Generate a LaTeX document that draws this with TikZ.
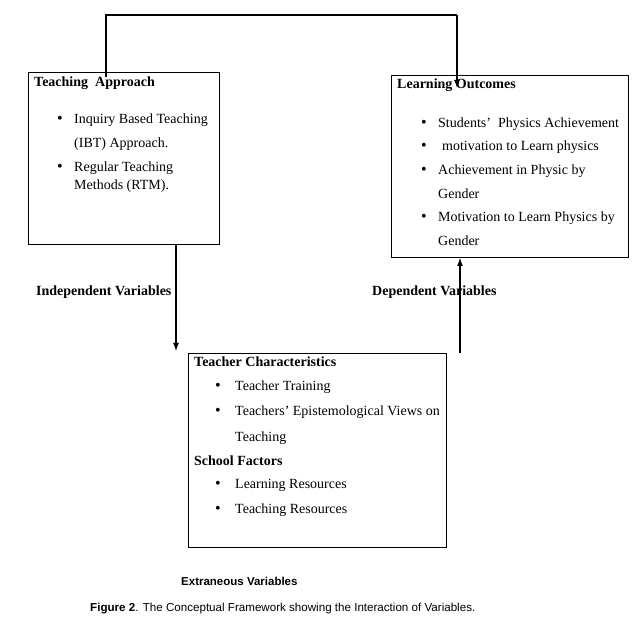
\documentclass[tikz,border=0pt]{standalone}
\usepackage{fontspec}
\setmainfont{Liberation Serif}
\setsansfont{Liberation Sans}
\usetikzlibrary{arrows.meta}
\begin{document}
\begin{tikzpicture}[x=1pt,y=-1pt,
  box/.style={draw,line width=0.9pt,anchor=north west,inner sep=0pt},
  txt/.style={anchor=base west,inner sep=0pt,font=\fontsize{14}{16}\selectfont},
  hd/.style={txt,font=\fontsize{14}{16}\selectfont\bfseries},
  bul/.style={anchor=base,inner sep=0pt,font=\fontsize{16}{18}\selectfont},
  conn/.style={line width=1.4pt},
  arr/.style={line width=1.2pt,-{Latex[length=8pt,width=6pt]}}]
\useasboundingbox[fill=white] (0,0) rectangle (643,620);
% boxes
\node[box,minimum width=191pt,minimum height=172pt] (ta) at (28,72) {};
\node[box,minimum width=237pt,minimum height=182pt] (lo) at (391,75) {};
\node[box,minimum width=258pt,minimum height=194pt] (ex) at (188,353) {};
% teaching approach
\node[hd] (tah) at (34,87) {Teaching\ \ Approach};
\node[bul] (tab1) at (60,124) {\textbullet};
\node[txt] (ta1) at (74,124) {Inquiry Based Teaching};
\node[txt] (ta2) at (74,148) {(IBT) Approach.};
\node[bul] (tab2) at (60,172) {\textbullet};
\node[txt] (ta3) at (74,172) {Regular Teaching};
\node[txt] (ta4) at (74,190) {Methods (RTM).};
% learning outcomes
\node[hd] (loh) at (397,89) {Learning Outcomes};
\node[bul] (lob1) at (424,128) {\textbullet};
\node[txt] (lo1) at (438,128) {Students’\ \ Physics Achievement};
\node[bul] (lob2) at (424,151) {\textbullet};
\node[txt] (lo2) at (442,151) {motivation to Learn physics};
\node[bul] (lob3) at (424,175) {\textbullet};
\node[txt] (lo3) at (438,175) {Achievement in Physic by};
\node[txt] (lo4) at (438,199) {Gender};
\node[bul] (lob4) at (424,222) {\textbullet};
\node[txt] (lo5) at (438,222) {Motivation to Learn Physics by};
\node[txt] (lo6) at (438,246) {Gender};
% extraneous
\node[hd] (exh1) at (194,367) {Teacher Characteristics};
\node[bul] (exb1) at (218,391) {\textbullet};
\node[txt] (ex1) at (235,391) {Teacher Training};
\node[bul] (exb2) at (218,416) {\textbullet};
\node[txt] (ex2) at (235,416) {Teachers’ Epistemological Views on};
\node[txt] (ex3) at (235,441) {Teaching};
\node[hd] (exh2) at (194,465) {School Factors};
\node[bul] (exb3) at (218,488) {\textbullet};
\node[txt] (ex4) at (235,488) {Learning Resources};
\node[bul] (exb4) at (218,513) {\textbullet};
\node[txt] (ex5) at (235,513) {Teaching Resources};
% labels
\node[hd] (iv) at (36,296) {Independent Variables};
\node[hd] (dv) at (372,296) {Dependent Variables};
\node[anchor=base west,inner sep=0pt,font=\sffamily\bfseries\fontsize{11.5}{13}\selectfont] (xv) at (181,585) {Extraneous Variables};
\node[anchor=base west,inner sep=0pt,font=\sffamily\fontsize{11.6}{13}\selectfont] (cap) at (90,611) {\textbf{Figure 2}. The Conceptual Framework showing the Interaction of Variables.};
% connectors
\coordinate (tastart) at (106,77);
\coordinate (topy) at (0,15);
\coordinate (loend) at (457,88);
\draw[conn] (tastart) -- (tastart |- topy) -- (topy -| loend);
\draw[arr] (topy -| loend) -- (loend);
\coordinate (xa) at (176,0);
\coordinate (xb) at (460,0);
\draw[arr] (ta.south -| xa) -- ([yshift=2pt]ex.north -| xa);
\draw[arr] (ex.north -| xb) -- (lo.south -| xb);
\end{tikzpicture}
\end{document}
